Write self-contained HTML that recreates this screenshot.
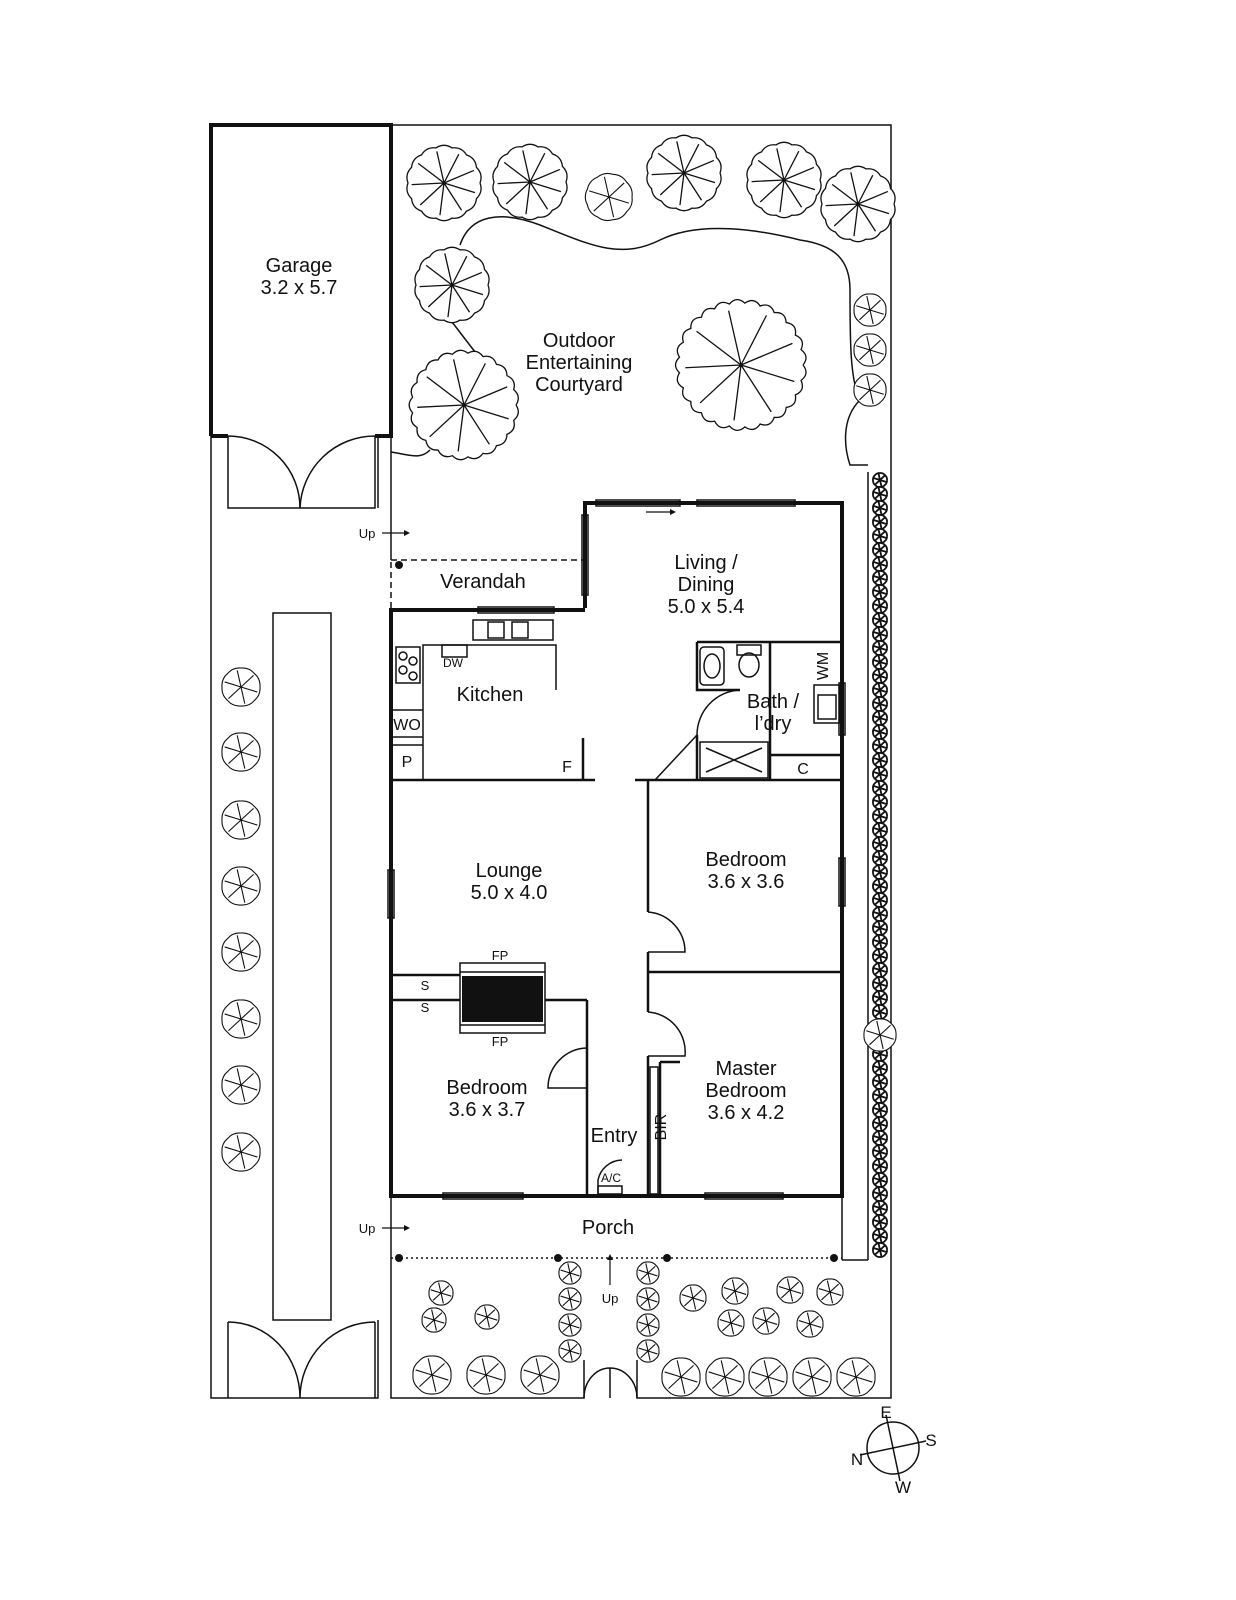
<!DOCTYPE html>
<html><head><meta charset="utf-8"><style>
body{margin:0;background:#fff}
svg{display:block}
text{font-family:"Liberation Sans",sans-serif;fill:#111;text-anchor:middle}
</style></head><body>
<svg id="s" width="1236" height="1600" viewBox="0 0 1236 1600" xmlns="http://www.w3.org/2000/svg">
<g fill="none" stroke="#111" stroke-width="1.5">
<polyline points="391,125 891,125 891,1398 637,1398 637,1360"/>
<polyline points="584,1360 584,1398 391,1398 391,1260"/>
<polyline points="211,436 211,1398 378,1398 378,1320"/>
<line x1="378" y1="508" x2="378" y2="436"/>
<line x1="391" y1="436" x2="391" y2="560"/>
<line x1="391" y1="1196" x2="391" y2="1260"/>
<rect x="273" y="613" width="58" height="707"/>
<path d="M228,436 V508 H300 M228,436 A72,72 0 0 1 300,508"/>
<path d="M375,436 V508 H300 M375,436 A75,75 0 0 0 300,508"/>
<path d="M228,1398 V1322 M228,1322 A72,76 0 0 1 300,1398 M375,1398 V1322 M375,1322 A75,76 0 0 0 300,1398"/>
<path d="M584,1398 A26,30 0 0 1 610,1368 V1398 M610,1368 A27,30 0 0 1 637,1398"/>
<path d="M460,245 C470,215 500,210 540,225 C590,245 620,260 660,240 C700,220 760,230 800,240 C835,245 850,260 850,290 C850,340 850,380 860,400 C840,420 845,450 850,465 L868,465" />
<path d="M452,322 C470,345 480,360 484,360"/>
<path d="M391,452 C410,455 420,460 430,450"/>
<polyline points="391,560 585,560" stroke-dasharray="6,4"/>
<polyline points="391,562 391,610" stroke-dasharray="6,4"/>
<line x1="391" y1="1258" x2="842" y2="1258" stroke-dasharray="2,3"/>
<line x1="842" y1="1196" x2="842" y2="1260"/>
<line x1="842" y1="1260" x2="868" y2="1260"/>
<line x1="868" y1="472" x2="868" y2="1260"/>
</g>
<g fill="none" stroke="#111" stroke-width="4">
<polyline points="211,436 211,125 391,125 391,436 375,436"/>
<line x1="211" y1="436" x2="228" y2="436"/>
<polyline points="585,608 585,503 842,503 842,1196 391,1196 391,610 585,610"/>
</g>
<g fill="none" stroke="#111" stroke-width="2.5">
<line x1="391" y1="780" x2="595" y2="780"/>
<line x1="635" y1="780" x2="842" y2="780"/>
<line x1="648" y1="780" x2="648" y2="912"/>
<line x1="648" y1="952" x2="648" y2="1012"/>
<line x1="648" y1="1056" x2="648" y2="1196"/>
<line x1="648" y1="972" x2="842" y2="972"/>
<line x1="587" y1="1000" x2="587" y2="1196"/>
<line x1="545" y1="1000" x2="587" y2="1000"/>
<line x1="391" y1="1000" x2="460" y2="1000"/>
<line x1="391" y1="975" x2="460" y2="975"/>
<line x1="583" y1="738" x2="583" y2="780"/>
<polyline points="697,642 842,642"/>
<polyline points="697,642 697,690 740,690"/>
<line x1="697" y1="735" x2="697" y2="780"/>
<line x1="770" y1="642" x2="770" y2="780"/>
<polyline points="770,755 842,755"/>
<line x1="660" y1="1062" x2="660" y2="1196"/>
<line x1="660" y1="1062" x2="680" y2="1062"/>
</g>
<g fill="none" stroke="#111" stroke-width="1.5">
<path d="M648,912 A40,40 0 0 1 685,952 H648"/>
<path d="M648,1012 A40,40 0 0 1 685,1056 H648"/>
<path d="M587,1048 A40,40 0 0 0 548,1088 H587"/>
<path d="M697,735 A45,45 0 0 1 740,690"/>
<path d="M655,780 L697,735"/>
<polyline points="423,780 423,645 556,645 556,690 A8,8 0 0 0 564,696 H590 A6,6 0 0 0 596,690 V632 A20,20 0 0 0 585,612"/>
<rect x="473" y="620" width="80" height="20"/>
<rect x="488" y="622" width="16" height="16"/><rect x="512" y="622" width="16" height="16"/>
<rect x="396" y="647" width="24" height="36"/>
<circle cx="403" cy="656" r="4"/><circle cx="413" cy="661" r="4"/><circle cx="403" cy="670" r="4"/><circle cx="413" cy="676" r="4"/>
<rect x="442" y="645" width="25" height="12"/>
<line x1="391" y1="710" x2="423" y2="710"/><line x1="391" y1="737" x2="423" y2="737"/><line x1="391" y1="745" x2="423" y2="745"/>
<rect x="700" y="647" width="24" height="38" rx="4"/>
<ellipse cx="712" cy="666" rx="8" ry="12"/>
<rect x="737" y="645" width="24" height="10"/><ellipse cx="749" cy="665" rx="10" ry="12"/>
<rect x="700" y="742" width="68" height="36"/>
<path d="M706,748 L762,772 M706,772 L762,748"/>
<rect x="814" y="685" width="26" height="38"/><rect x="818" y="695" width="18" height="24"/>
<rect x="460" y="963" width="85" height="70"/>
<line x1="460" y1="972" x2="545" y2="972"/><line x1="460" y1="1025" x2="545" y2="1025"/>
<rect x="650" y="1067" width="8" height="127"/>
<path d="M598,1194 V1180 A25,25 0 0 1 622,1160"/><rect x="598" y="1186" width="24" height="8"/>
<rect x="596" y="500" width="84" height="6"/><rect x="697" y="500" width="98" height="6"/>
<rect x="582" y="515" width="6" height="80"/>
<rect x="388" y="870" width="6" height="48"/><rect x="839" y="858" width="6" height="48"/>
<rect x="839" y="683" width="6" height="52"/>
<rect x="443" y="1193" width="80" height="6"/><rect x="705" y="1193" width="78" height="6"/>
<rect x="478" y="607" width="76" height="6"/>
<circle cx="893" cy="1448" r="26"/>
<line x1="860" y1="1455" x2="926" y2="1441"/><line x1="886" y1="1415" x2="900" y2="1481"/>
</g>
<rect x="462" y="976" width="81" height="46" fill="#111"/>
<g fill="#111">
<circle cx="399" cy="565" r="4"/>
<circle cx="399" cy="1258" r="4"/><circle cx="558" cy="1258" r="4"/><circle cx="667" cy="1258" r="4"/><circle cx="834" cy="1258" r="4"/>
<path d="M410,533 l-6,-3 v6z M410,1228 l-6,-3 v6z M676,512 l-6,-3 v6z M610,1254 l-3,6 h6z"/>
</g>
<g stroke="#111" stroke-width="1.2">
<line x1="382" y1="533" x2="406" y2="533"/><line x1="382" y1="1228" x2="406" y2="1228"/>
<line x1="646" y1="512" x2="672" y2="512"/><line x1="610" y1="1258" x2="610" y2="1285"/>
</g>
<g id="trees"></g>
<text x="299" y="272" font-size="20">Garage</text>
<text x="299" y="294" font-size="20">3.2 x 5.7</text>
<text x="579" y="347" font-size="20">Outdoor</text>
<text x="579" y="369" font-size="20">Entertaining</text>
<text x="579" y="391" font-size="20">Courtyard</text>
<text x="483" y="588" font-size="20">Verandah</text>
<text x="706" y="569" font-size="20">Living /</text>
<text x="706" y="591" font-size="20">Dining</text>
<text x="706" y="613" font-size="20">5.0 x 5.4</text>
<text x="490" y="701" font-size="20">Kitchen</text>
<text x="453" y="667" font-size="12">DW</text>
<text x="407" y="730" font-size="16">WO</text>
<text x="407" y="767" font-size="16">P</text>
<text x="567" y="772" font-size="16">F</text>
<text x="773" y="708" font-size="20">Bath /</text>
<text x="773" y="730" font-size="20">l’dry</text>
<text x="803" y="774" font-size="16">C</text>
<text x="830" y="668" font-size="16" transform="rotate(-90 828 668)">WM</text>
<text x="509" y="877" font-size="20">Lounge</text>
<text x="509" y="899" font-size="20">5.0 x 4.0</text>
<text x="746" y="866" font-size="20">Bedroom</text>
<text x="746" y="888" font-size="20">3.6 x 3.6</text>
<text x="500" y="960" font-size="13">FP</text>
<text x="500" y="1046" font-size="13">FP</text>
<text x="425" y="990" font-size="13">S</text>
<text x="425" y="1012" font-size="13">S</text>
<text x="487" y="1094" font-size="20">Bedroom</text>
<text x="487" y="1116" font-size="20">3.6 x 3.7</text>
<text x="746" y="1075" font-size="20">Master</text>
<text x="746" y="1097" font-size="20">Bedroom</text>
<text x="746" y="1119" font-size="20">3.6 x 4.2</text>
<text x="614" y="1142" font-size="20">Entry</text>
<text x="666" y="1127" font-size="16" transform="rotate(-90 666 1127)">BIR</text>
<text x="611" y="1182" font-size="12">A/C</text>
<text x="608" y="1234" font-size="20">Porch</text>
<text x="367" y="538" font-size="13">Up</text>
<text x="367" y="1233" font-size="13">Up</text>
<text x="610" y="1303" font-size="13">Up</text>
<text x="886" y="1418" font-size="17">E</text>
<text x="931" y="1446" font-size="17">S</text>
<text x="857" y="1465" font-size="17">N</text>
<text x="903" y="1493" font-size="17">W</text>
</svg>
<script>
var g=document.getElementById('trees'),ns='http://www.w3.org/2000/svg';
function tree(cx,cy,r,sw){
 var n=Math.max(8,Math.round(r/2.5)),d='';
 for(var i=0;i<=n;i++){var a=i/n*2*Math.PI;var x=cx+r*Math.cos(a),y=cy+r*Math.sin(a);
  if(i==0)d+='M'+x+','+y;else{var am=(i-0.5)/n*2*Math.PI;d+=' Q'+(cx+r*1.12*Math.cos(am))+','+(cy+r*1.12*Math.sin(am))+' '+x+','+y;}}
 var k=r>30?9:6;
 for(var j=0;j<k;j++){var a=j/k*2*Math.PI+0.3;d+=' M'+cx+','+cy+' L'+(cx+r*0.9*Math.cos(a))+','+(cy+r*0.9*Math.sin(a));}
 var p=document.createElementNS(ns,'path');p.setAttribute('d',d);p.setAttribute('fill','#fff');p.setAttribute('stroke','#111');p.setAttribute('stroke-width',sw||(r>30?1.3:1.1));g.appendChild(p);}
[[444,183,36],[530,182,36],[609,197,23],[684,173,36],[784,180,36],[858,204,36],[452,285,36],[464,405,52],[741,365,62],[870,310,16],[870,350,16],[870,390,16]].forEach(function(t){tree(t[0],t[1],t[2])});
[687,752,820,886,952,1019,1085,1152].forEach(function(y){tree(241,y,19)});
for(var y=480;y<=1252;y+=14){tree(880,y,7,1.8);}
tree(880,1035,16);
[[441,1293,12],[434,1320,12],[487,1317,12],[432,1375,19],[486,1375,19],[540,1375,19],[693,1298,13],[735,1291,13],[790,1290,13],[830,1292,13],[731,1323,13],[766,1321,13],[810,1324,13],[681,1377,19],[725,1377,19],[768,1377,19],[812,1377,19],[856,1377,19]].forEach(function(t){tree(t[0],t[1],t[2])});
for(var y=1273;y<=1352;y+=26){tree(570,y,11);tree(648,y,11);}
</script>
</body></html>
